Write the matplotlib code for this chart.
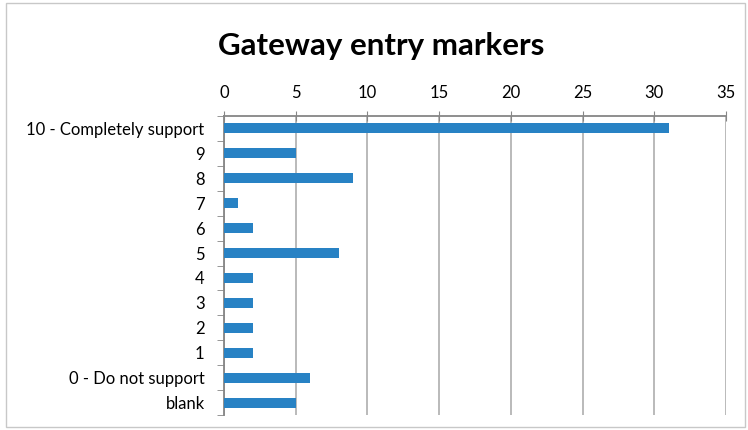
import matplotlib.pyplot as plt
from matplotlib.patches import Rectangle
import numpy as np

# Survey responses, top to bottom as shown
categories = ["10 - Completely support", "9", "8", "7", "6", "5", "4", "3", "2", "1",
              "0 - Do not support", "blank"]
counts = [31, 5, 9, 1, 2, 8, 2, 2, 2, 2, 6, 5]
x_ticks = [0, 5, 10, 15, 20, 25, 30, 35]

plt.rcParams['font.family'] = ['Lato', 'DejaVu Sans']

fig = plt.figure(figsize=(7.48, 4.30), dpi=100)
fig.patches.append(Rectangle((6 / 748, 3 / 430), 739 / 748, 424 / 430, transform=fig.transFigure,
                             fill=False, edgecolor='#c8c8c8', linewidth=1))

ax = fig.add_axes([224 / 748, 15 / 430, 502 / 748, 299 / 430])

y = np.arange(len(categories))
ax.barh(y, counts, height=0.4, color='#2882c4', zorder=3)

ax.set_xlim(0, 35)
ax.set_ylim(len(categories) - 0.5, -0.5)
ax.set_xticks(x_ticks)
ax.xaxis.tick_top()
ax.tick_params(axis='x', direction='inout', length=7, color='#868686', labelsize=12, pad=7)
ax.grid(axis='x', color='#b4b4b4', linewidth=1.3, zorder=0)

ax.set_yticks(y)
ax.set_yticklabels(categories, fontsize=12)
ax.set_yticks(np.arange(len(categories) + 1) - 0.5, minor=True)
ax.tick_params(axis='y', which='major', length=0, pad=14)
ax.tick_params(axis='y', which='minor', direction='out', length=5, color='#868686')

for s in ['right', 'bottom']:
    ax.spines[s].set_visible(False)
for s in ['top', 'left']:
    ax.spines[s].set_color('#868686')
    ax.spines[s].set_linewidth(1.3)

fig.text(381 / 748, 1 - 46 / 430, "Gateway entry markers", ha='center', va='center',
         fontsize=22.5, fontweight='bold')

fig.savefig("out.png", dpi=100)
